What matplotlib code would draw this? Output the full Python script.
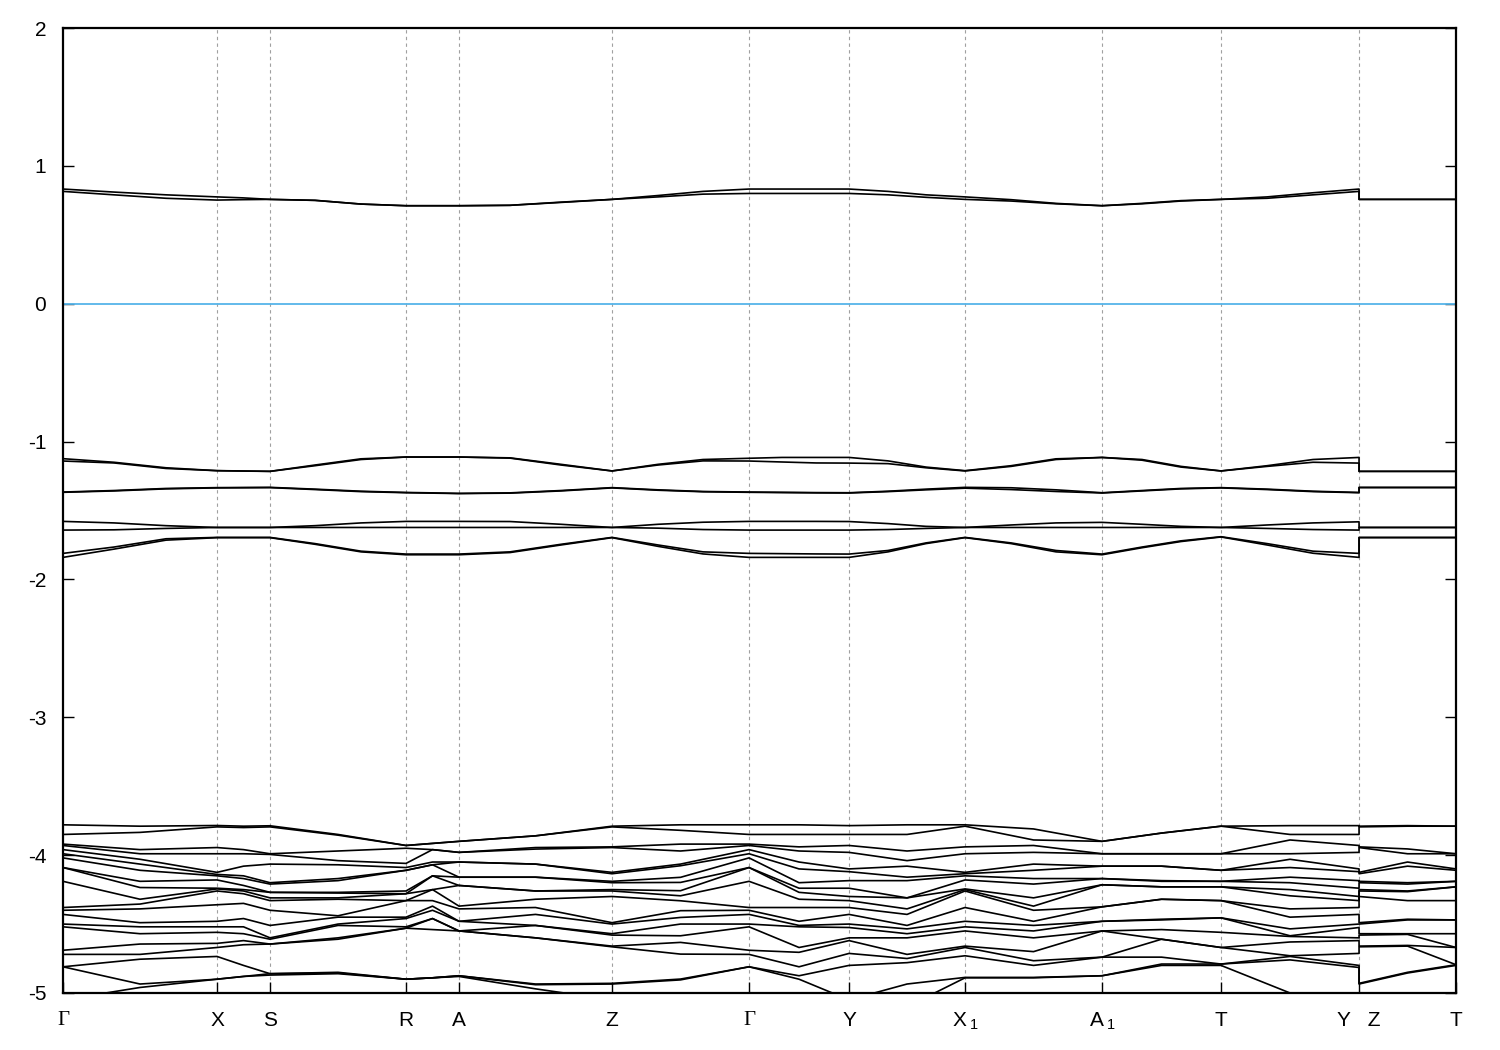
import matplotlib
matplotlib.use("Agg")
import matplotlib.pyplot as plt
import numpy as np

plt.rcParams['font.family'] = ['Liberation Sans', 'DejaVu Sans']
plt.rcParams['axes.unicode_minus'] = False
plt.rcParams['mathtext.default'] = 'regular'

# high-symmetry path
k_ticks = [0.000, 0.154, 0.207, 0.343, 0.396, 0.549, 0.686, 0.786, 0.902, 1.039, 1.158, 1.296, 1.393]
k_names = ['Γ', 'X', 'S', 'R', 'A', 'Z', 'Γ', 'Y', r'X$\,_{\mathregular{1}}$', r'A$\,_{\mathregular{1}}$', 'T', 'Y   Z', 'T']

# sampling of the upper (isolated) bands
k_upper = [0.000, 0.051, 0.103, 0.154, 0.180, 0.207, 0.252, 0.298, 0.343, 0.369, 0.396, 0.447,
           0.498, 0.549, 0.595, 0.640, 0.686, 0.719, 0.753, 0.786, 0.825, 0.863, 0.902, 0.948,
           0.993, 1.039, 1.079, 1.118, 1.158, 1.204, 1.250, 1.296, 1.296, 1.328, 1.361, 1.393]

u1 = [0.832, 0.810, 0.790, 0.775, 0.768, 0.757, 0.750, 0.723, 0.711, 0.711, 0.711, 0.714,
      0.737, 0.757, 0.785, 0.815, 0.832, 0.832, 0.832, 0.832, 0.815, 0.790, 0.775, 0.755,
      0.728, 0.711, 0.728, 0.748, 0.757, 0.775, 0.805, 0.832, 0.757, 0.757, 0.757, 0.757]
u2 = [0.815, 0.790, 0.765, 0.752, 0.755, 0.757, 0.750, 0.723, 0.711, 0.711, 0.711, 0.714,
      0.735, 0.757, 0.775, 0.795, 0.800, 0.800, 0.800, 0.800, 0.790, 0.772, 0.757, 0.745,
      0.725, 0.711, 0.725, 0.745, 0.757, 0.765, 0.790, 0.815, 0.757, 0.757, 0.757, 0.757]
b1 = [-1.124, -1.150, -1.190, -1.211, -1.213, -1.216, -1.170, -1.125, -1.112, -1.112, -1.112, -1.118,
      -1.165, -1.213, -1.165, -1.130, -1.121, -1.115, -1.115, -1.115, -1.140, -1.185, -1.211, -1.175,
      -1.125, -1.115, -1.130, -1.180, -1.213, -1.175, -1.130, -1.115, -1.216, -1.216, -1.216, -1.216]
b2 = [-1.141, -1.155, -1.195, -1.211, -1.214, -1.216, -1.175, -1.130, -1.112, -1.112, -1.112, -1.120,
      -1.170, -1.213, -1.170, -1.140, -1.141, -1.148, -1.155, -1.156, -1.160, -1.190, -1.213, -1.180,
      -1.130, -1.115, -1.135, -1.185, -1.213, -1.180, -1.150, -1.156, -1.216, -1.216, -1.216, -1.216]
c1 = [-1.366, -1.355, -1.340, -1.334, -1.333, -1.332, -1.345, -1.360, -1.369, -1.372, -1.376, -1.372,
      -1.355, -1.334, -1.350, -1.362, -1.366, -1.368, -1.370, -1.371, -1.360, -1.345, -1.332, -1.335,
      -1.350, -1.371, -1.355, -1.340, -1.334, -1.345, -1.360, -1.369, -1.332, -1.332, -1.332, -1.332]
c2 = [-1.368, -1.358, -1.343, -1.336, -1.335, -1.334, -1.348, -1.363, -1.371, -1.374, -1.377, -1.374,
      -1.358, -1.336, -1.353, -1.364, -1.368, -1.370, -1.372, -1.373, -1.363, -1.350, -1.338, -1.348,
      -1.362, -1.373, -1.358, -1.343, -1.336, -1.348, -1.363, -1.371, -1.334, -1.334, -1.334, -1.334]
d1 = [-1.579, -1.590, -1.610, -1.623, -1.623, -1.623, -1.610, -1.590, -1.579, -1.579, -1.579, -1.580,
      -1.600, -1.623, -1.600, -1.585, -1.579, -1.579, -1.579, -1.580, -1.595, -1.615, -1.623, -1.605,
      -1.590, -1.586, -1.600, -1.615, -1.623, -1.605, -1.590, -1.582, -1.623, -1.623, -1.623, -1.623]
d2 = [-1.642, -1.640, -1.630, -1.623, -1.623, -1.623, -1.623, -1.623, -1.623, -1.623, -1.623, -1.623,
      -1.623, -1.623, -1.628, -1.638, -1.642, -1.642, -1.642, -1.642, -1.638, -1.630, -1.623, -1.623,
      -1.623, -1.623, -1.623, -1.623, -1.623, -1.630, -1.638, -1.642, -1.623, -1.623, -1.623, -1.623]
f1 = [-1.811, -1.765, -1.705, -1.695, -1.695, -1.695, -1.740, -1.795, -1.816, -1.816, -1.816, -1.800,
      -1.745, -1.695, -1.750, -1.800, -1.811, -1.813, -1.815, -1.816, -1.790, -1.735, -1.695, -1.735,
      -1.790, -1.816, -1.765, -1.720, -1.690, -1.740, -1.795, -1.811, -1.695, -1.695, -1.695, -1.695]
f2 = [-1.840, -1.780, -1.715, -1.697, -1.697, -1.697, -1.745, -1.800, -1.821, -1.821, -1.821, -1.805,
      -1.750, -1.697, -1.760, -1.815, -1.840, -1.840, -1.840, -1.840, -1.800, -1.740, -1.697, -1.740,
      -1.800, -1.821, -1.770, -1.725, -1.692, -1.750, -1.810, -1.840, -1.697, -1.697, -1.697, -1.697]

# sampling of the dense lower manifold (20 bands, sorted by energy at each point)
k_lower = [0.000, 0.077, 0.154, 0.1805, 0.207, 0.275, 0.343, 0.3695, 0.396, 0.4725, 0.549, 0.6175, 0.686,
           0.736, 0.786, 0.844, 0.902, 0.9705, 1.039, 1.0985, 1.158, 1.227, 1.296, 1.296, 1.3445, 1.393]

lo_G = [-3.78, -3.85, -3.92, -3.93, -3.96, -3.99, -4.02, -4.09, -4.09, -4.19, -4.38, -4.40, -4.43, -4.50, -4.52, -4.69, -4.72, -4.81, -4.81, -5.05]
lo_GX = [-3.79, -3.835, -3.96, -3.99, -4.03, -4.065, -4.11, -4.19, -4.235, -4.32, -4.355, -4.39, -4.49, -4.52, -4.57, -4.645, -4.72, -4.755, -4.935, -4.96]
lo_X = [-3.785, -3.795, -3.945, -3.99, -4.125, -4.14, -4.15, -4.18, -4.24, -4.245, -4.26, -4.36, -4.48, -4.52, -4.56, -4.64, -4.67, -4.735, -4.90, -4.90]
lo_XS = [-3.79, -3.80, -3.96, -3.99, -4.08, -4.15, -4.17, -4.22, -4.25, -4.26, -4.28, -4.35, -4.46, -4.52, -4.57, -4.62, -4.65, -4.80, -4.88, -4.88]
lo_S = [-3.787, -3.795, -3.99, -3.995, -4.065, -4.20, -4.21, -4.27, -4.27, -4.31, -4.33, -4.40, -4.51, -4.60, -4.61, -4.645, -4.645, -4.86, -4.86, -4.87]
lo_SR = [-3.85, -3.855, -3.97, -4.04, -4.07, -4.17, -4.185, -4.27, -4.275, -4.31, -4.32, -4.44, -4.45, -4.50, -4.51, -4.60, -4.61, -4.85, -4.855, -4.86]
lo_R = [-3.93, -3.93, -3.95, -4.06, -4.09, -4.11, -4.11, -4.26, -4.28, -4.28, -4.33, -4.33, -4.45, -4.46, -4.52, -4.53, -4.53, -4.90, -4.90, -4.90]
lo_RA = [-3.915, -3.915, -3.96, -3.96, -4.05, -4.07, -4.07, -4.15, -4.15, -4.25, -4.25, -4.33, -4.37, -4.40, -4.46, -4.46, -4.54, -4.89, -4.89, -4.89]
lo_A = [-3.90, -3.90, -3.98, -3.98, -4.05, -4.05, -4.16, -4.16, -4.22, -4.22, -4.37, -4.39, -4.48, -4.48, -4.55, -4.55, -4.55, -4.875, -4.875, -4.88]
lo_AZ = [-3.86, -3.86, -3.945, -3.956, -4.065, -4.065, -4.16, -4.16, -4.26, -4.26, -4.32, -4.38, -4.43, -4.51, -4.51, -4.60, -4.60, -4.935, -4.94, -4.97]
lo_Z = [-3.79, -3.795, -3.94, -3.945, -4.125, -4.135, -4.19, -4.20, -4.25, -4.26, -4.30, -4.49, -4.50, -4.57, -4.58, -4.66, -4.665, -4.93, -4.935, -5.05]
lo_ZG = [-3.78, -3.82, -3.92, -3.97, -4.065, -4.077, -4.161, -4.198, -4.258, -4.295, -4.331, -4.403, -4.452, -4.50, -4.585, -4.633, -4.718, -4.899, -4.905, -5.10]
lo_GY = [-3.78, -3.85, -3.94, -3.97, -4.05, -4.10, -4.20, -4.24, -4.27, -4.32, -4.38, -4.48, -4.51, -4.52, -4.67, -4.705, -4.81, -4.875, -4.90, -5.10]
lo_Y = [-3.786, -3.85, -3.93, -3.98, -4.10, -4.12, -4.185, -4.24, -4.30, -4.33, -4.38, -4.43, -4.50, -4.525, -4.60, -4.62, -4.713, -4.80, -5.05, -5.10]
lo_YX1 = [-3.78, -3.85, -3.97, -4.04, -4.08, -4.16, -4.185, -4.31, -4.31, -4.39, -4.43, -4.51, -4.535, -4.57, -4.60, -4.72, -4.75, -4.78, -4.935, -5.10]
lo_X1 = [-3.78, -3.79, -3.94, -3.99, -4.125, -4.135, -4.15, -4.18, -4.245, -4.25, -4.26, -4.38, -4.48, -4.52, -4.55, -4.66, -4.67, -4.73, -4.887, -4.89]
lo_X1A1 = [-3.81, -3.89, -3.93, -3.98, -4.065, -4.11, -4.17, -4.21, -4.31, -4.37, -4.40, -4.48, -4.51, -4.55, -4.60, -4.70, -4.766, -4.80, -4.887, -4.89]
lo_A1 = [-3.90, -3.90, -3.99, -3.99, -4.08, -4.08, -4.17, -4.17, -4.215, -4.215, -4.375, -4.375, -4.48, -4.48, -4.55, -4.55, -4.74, -4.74, -4.875, -4.875]
lo_A1T = [-3.84, -3.84, -3.99, -3.99, -4.08, -4.08, -4.185, -4.19, -4.23, -4.23, -4.32, -4.32, -4.465, -4.47, -4.54, -4.61, -4.61, -4.74, -4.79, -4.80]
lo_T = [-3.79, -3.79, -3.99, -3.99, -4.11, -4.11, -4.19, -4.19, -4.23, -4.23, -4.33, -4.33, -4.455, -4.455, -4.56, -4.67, -4.67, -4.79, -4.79, -4.80]
lo_TY = [-3.786, -3.85, -3.89, -3.99, -4.03, -4.09, -4.16, -4.20, -4.25, -4.295, -4.39, -4.45, -4.535, -4.585, -4.59, -4.63, -4.73, -4.735, -4.76, -5.00]
lo_Y2 = [-3.786, -3.85, -3.93, -3.98, -4.10, -4.12, -4.185, -4.24, -4.30, -4.33, -4.38, -4.43, -4.50, -4.525, -4.60, -4.62, -4.713, -4.80, -4.815, -5.05]
lo_ZT = [-3.786, -3.79, -3.955, -3.99, -4.05, -4.08, -4.20, -4.21, -4.26, -4.265, -4.33, -4.465, -4.47, -4.57, -4.575, -4.655, -4.66, -4.85, -4.855, -5.10]
lo_T2 = [-3.79, -3.79, -3.99, -3.99, -4.10, -4.11, -4.19, -4.19, -4.23, -4.23, -4.33, -4.47, -4.47, -4.57, -4.67, -4.67, -4.795, -4.795, -4.80, -5.10]

lower_cols = [lo_G, lo_GX, lo_X, lo_XS, lo_S, lo_SR, lo_R, lo_RA, lo_A, lo_AZ, lo_Z, lo_ZG, lo_G,
              lo_GY, lo_Y, lo_YX1, lo_X1, lo_X1A1, lo_A1, lo_A1T, lo_T, lo_TY, lo_Y2, lo_Z, lo_ZT, lo_T2]
lower_bands = np.array(lower_cols).T

fig = plt.figure(figsize=(15, 10.5), dpi=100)
ax = fig.add_axes([0.042, 0.0543, 0.9287, 0.919])

for k in k_ticks[1:-1]:
    ax.axvline(k, color='#a0a0a0', lw=0.8, ls=(0, (3, 3)), zorder=1)

ax.axhline(0, color='#56b4e9', lw=1.3, zorder=2)

for band in [u1, u2, b1, b2, c1, c2, d1, d2, f1, f2]:
    ax.plot(k_upper, band, color='black', lw=1.2, zorder=3)
for band in lower_bands:
    ax.plot(k_lower, band, color='black', lw=1.2, zorder=3)

ax.set_xlim(k_ticks[0], k_ticks[-1])
ax.set_ylim(-5, 2)
ax.set_yticks(range(-5, 3))
ax.set_xticks(k_ticks)
ax.set_xticklabels(k_names)
for lbl in ax.get_xticklabels():
    if lbl.get_text() == 'Γ':
        lbl.set_fontfamily(['Liberation Serif', 'DejaVu Serif'])
        lbl.set_fontsize(16)

ax.tick_params(axis='both', direction='in', length=8, width=1, labelsize=15, colors='black')
ax.tick_params(axis='x', pad=13)
ax.tick_params(axis='y', pad=12, right=True)
for s in ax.spines.values():
    s.set_linewidth(1.6)

fig.savefig('out.png', dpi=100)
